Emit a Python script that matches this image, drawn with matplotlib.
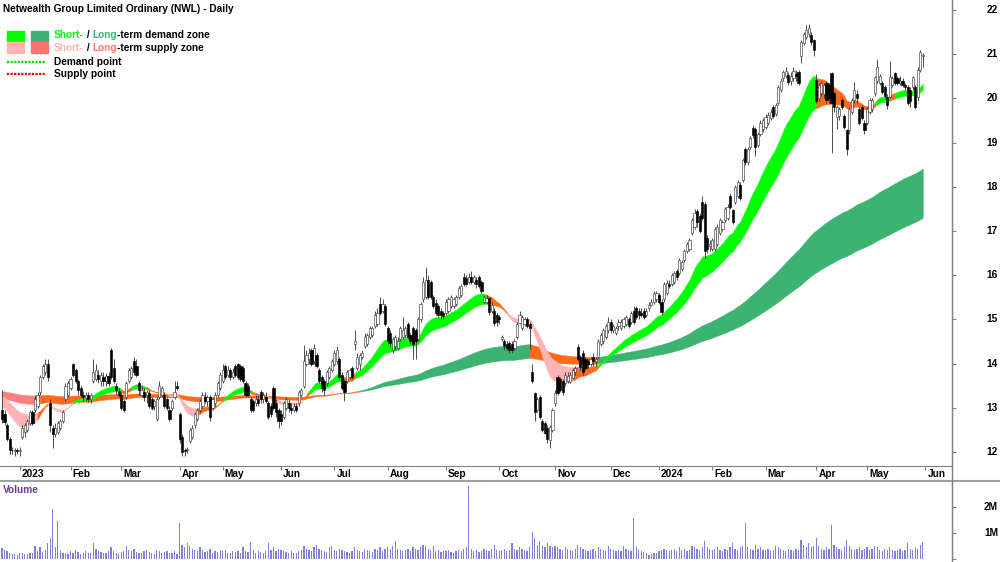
import numpy as np
import pandas as pd
import matplotlib
matplotlib.use("Agg")
import matplotlib.pyplot as plt
from matplotlib import transforms
from matplotlib.lines import Line2D
from matplotlib.patches import Rectangle

plt.rcParams['font.family'] = ['Liberation Sans', 'DejaVu Sans']

title = "Netwealth Group Limited Ordinary (NWL) - Daily"

# ASX trading days shown on the chart
asx_holidays = ["2022-12-26", "2022-12-27", "2023-01-02", "2023-01-26", "2023-04-07",
                "2023-04-10", "2023-04-25", "2023-06-12", "2023-12-25", "2023-12-26",
                "2024-01-01", "2024-01-26", "2024-03-29", "2024-04-01", "2024-04-25"]

opens = [
    12.95, 12.85, 12.60, 12.30, 12.05, 12.02, 12.05,  # Dec 22
    12.03, 12.35, 12.45, 12.50, 12.65, 12.90, 12.95, 13.05, 13.35, 13.70, 13.80, 14.00, 13.10, 12.55, 12.40, 12.45, 12.55, 12.70, 13.20, 13.30,
    13.45, 14.00, 13.85, 13.60, 13.45, 13.30, 13.22, 13.30, 13.20, 13.60, 13.65, 13.75, 13.60, 13.70, 13.60, 13.72, 14.30, 13.90, 13.50, 13.38,
    13.30, 13.15, 13.25, 13.60, 13.70, 14.05, 13.95, 13.55, 13.30, 13.35, 13.30, 13.33, 13.20, 13.05, 12.75, 13.25, 13.30, 13.30, 13.20, 12.95, 13.00, 13.25, 13.50,
    12.85, 12.35, 12.05, 12.05, 12.25, 12.35, 12.60, 12.75, 12.95, 13.05, 13.25, 13.15, 13.25, 13.00, 13.10, 13.30, 13.45,
    13.60, 13.95, 13.75, 13.85, 13.70, 13.95, 13.98, 13.95, 13.90, 13.55, 13.50, 13.20, 13.15, 13.10, 13.20, 13.35, 13.20, 13.25, 13.10, 13.05, 13.45, 13.10, 12.95,
    12.85, 12.80, 13.00, 13.10, 13.00, 12.95, 13.05, 13.10, 13.30, 13.50, 14.00, 14.10, 14.30, 14.05, 14.20, 13.85, 13.70, 13.60, 13.55, 13.70, 13.85,
    14.00, 14.05, 14.10, 13.75, 13.60, 13.60, 13.70, 13.90, 14.45, 13.90, 14.00, 14.15, 14.40, 14.45, 14.60, 14.65, 14.85, 14.90, 15.35, 15.20, 15.30,
    14.80, 14.70, 14.30, 14.40, 14.35, 14.55, 14.60, 14.65, 14.90, 14.65, 14.80, 14.75, 14.55, 15.00, 15.45, 15.50, 15.90, 15.85, 15.50, 15.37, 15.30, 15.20, 15.15,
    15.15, 15.20, 15.30, 15.30, 15.35, 15.50, 15.55, 15.95, 15.93, 15.85, 15.95, 15.85, 15.90, 15.95, 15.85, 15.40, 15.40, 15.48, 15.20, 15.20, 15.10,
    15.05, 14.55, 14.50, 14.45, 14.47, 14.45, 14.35, 14.60, 14.92, 14.80, 14.90, 15.00, 14.90, 13.80, 13.33, 12.95, 13.25, 12.70, 12.65, 12.55, 12.27, 12.50,
    13.10, 13.70, 13.65, 13.60, 13.55, 13.60, 13.58, 13.68, 13.80, 14.38, 14.15, 14.25, 14.10, 14.05, 14.00, 14.15, 14.05, 14.15, 14.45, 14.50, 14.60, 14.75,
    14.95, 14.75, 14.70, 14.85, 14.80, 14.85, 14.90, 15.00, 14.95, 15.20, 15.25, 15.20, 15.15, 15.20, 15.10, 15.25, 15.33, 15.40, 15.45,
    15.55, 15.40, 15.45, 15.60, 15.80, 15.80, 15.85, 16.10, 16.05, 16.15, 16.35, 16.55, 16.60, 16.95, 17.10, 17.45, 17.35, 17.65, 17.60, 16.85, 16.65,
    16.60, 16.60, 16.70, 16.95, 17.05, 17.25, 17.30, 17.80, 17.48, 17.65, 17.80, 18.05, 18.15, 18.85, 18.55, 18.90, 19.33, 19.30, 18.95, 19.20, 19.30,
    19.35, 19.45, 19.55, 19.80, 19.65, 19.90, 20.20, 20.45, 20.50, 20.53, 20.40, 20.45, 20.55, 20.60, 20.95, 21.25, 21.40, 21.45, 21.43, 21.32,
    20.42, 20.00, 20.12, 20.10, 20.35, 20.30, 20.57, 20.12, 19.58, 19.60, 19.96, 19.60, 19.28, 19.28, 19.70, 19.96, 20.10, 19.75, 19.80, 19.45,
    19.45, 19.70, 19.75, 20.12, 20.40, 20.35, 20.35, 20.26, 20.03, 20.03, 20.30, 20.57, 20.45, 20.35, 20.40, 20.30, 20.26, 20.20, 20.26, 20.26, 20.03, 20.64, 20.95,
]
highs = [
    13.40, 12.95, 12.65, 12.35, 12.12, 12.10, 12.10,
    12.12, 12.60, 12.65, 12.75, 12.95, 12.95, 13.30, 13.35, 13.75, 14.00, 14.10, 14.10, 13.20, 12.60, 12.65, 12.70, 12.75, 12.95, 13.55, 13.60,
    13.70, 14.02, 13.90, 13.65, 13.50, 13.38, 13.35, 13.35, 13.33, 14.10, 14.00, 13.85, 13.80, 13.80, 13.78, 13.80, 14.35, 14.10, 13.55, 13.45,
    13.35, 13.20, 13.60, 13.90, 13.95, 14.15, 14.10, 13.60, 13.50, 13.45, 13.40, 13.40, 13.25, 13.20, 13.25, 13.60, 13.50, 13.35, 13.25, 13.05, 13.20, 13.60, 13.60,
    12.90, 12.40, 12.10, 12.12, 12.55, 12.60, 12.90, 13.00, 13.20, 13.35, 13.35, 13.30, 13.30, 13.25, 13.35, 13.60, 13.80,
    13.98, 14.00, 13.95, 13.90, 13.90, 14.00, 14.02, 14.00, 13.95, 13.60, 13.55, 13.25, 13.20, 13.30, 13.30, 13.40, 13.35, 13.35, 13.15, 13.10, 13.50, 13.20, 13.00,
    12.95, 13.15, 13.25, 13.20, 13.10, 13.10, 13.10, 13.40, 13.45, 14.42, 14.30, 14.35, 14.35, 14.45, 14.25, 13.90, 13.75, 13.65, 13.85, 13.95, 14.10,
    14.30, 14.40, 14.15, 13.80, 13.65, 13.85, 13.90, 13.95, 14.75, 14.25, 14.25, 14.30, 14.70, 14.70, 14.85, 14.85, 15.20, 15.25, 15.50, 15.45, 15.35,
    14.85, 14.75, 14.60, 14.65, 14.60, 14.85, 15.05, 14.85, 14.95, 14.70, 14.85, 14.80, 15.05, 15.40, 15.95, 16.18, 16.00, 15.90, 15.55, 15.45, 15.35, 15.25, 15.20,
    15.45, 15.50, 15.55, 15.50, 15.55, 15.75, 15.80, 16.05, 16.00, 16.05, 16.10, 16.00, 15.95, 16.00, 15.90, 15.55, 15.55, 15.50, 15.40, 15.25, 15.15,
    15.10, 14.65, 14.55, 14.50, 14.50, 14.50, 14.55, 14.95, 15.20, 15.10, 15.05, 15.05, 14.95, 14.00, 13.35, 13.25, 13.30, 12.75, 12.70, 12.60, 12.60, 13.00,
    13.40, 13.75, 13.70, 13.65, 13.80, 13.80, 13.80, 13.90, 13.95, 14.45, 14.20, 14.30, 14.15, 14.10, 14.15, 14.25, 14.15, 14.55, 14.70, 14.80, 14.90, 15.05,
    15.00, 14.90, 14.85, 15.00, 15.00, 15.05, 15.10, 15.05, 15.20, 15.30, 15.30, 15.25, 15.25, 15.25, 15.25, 15.40, 15.45, 15.65, 15.65,
    15.60, 15.45, 15.85, 15.90, 15.90, 16.05, 16.10, 16.15, 16.40, 16.35, 16.60, 16.75, 16.85, 17.30, 17.50, 17.50, 17.40, 17.80, 17.65, 16.90, 16.80,
    16.85, 17.10, 17.15, 17.30, 17.25, 17.55, 17.60, 17.85, 17.50, 18.05, 18.15, 18.10, 18.65, 18.90, 18.90, 19.15, 19.40, 19.35, 19.25, 19.50, 19.55,
    19.65, 19.70, 19.75, 19.85, 19.90, 20.30, 20.45, 20.65, 20.70, 20.60, 20.60, 20.70, 20.65, 20.65, 21.32, 21.50, 21.66, 21.68, 21.50, 21.35,
    20.55, 20.35, 20.40, 20.35, 20.40, 20.35, 20.60, 20.15, 19.85, 19.80, 20.00, 19.65, 19.30, 19.80, 20.00, 20.38, 20.20, 19.80, 19.85, 19.50,
    19.80, 20.00, 20.00, 20.50, 20.90, 20.55, 20.40, 20.30, 20.10, 20.85, 20.50, 20.60, 20.50, 20.50, 20.45, 20.35, 20.30, 20.25, 20.50, 20.30, 20.70, 21.10, 21.02,
]
lows = [
    12.65, 12.60, 12.25, 11.95, 11.95, 11.92, 11.95,
    11.90, 12.30, 12.35, 12.45, 12.60, 12.60, 12.90, 13.00, 13.30, 13.65, 13.75, 13.60, 12.45, 12.10, 12.35, 12.40, 12.50, 12.65, 13.15, 13.25,
    13.40, 13.70, 13.55, 13.30, 13.25, 13.15, 13.15, 13.12, 13.10, 13.55, 13.60, 13.55, 13.50, 13.50, 13.50, 13.50, 13.65, 13.55, 13.30, 13.25,
    12.95, 12.90, 13.20, 13.55, 13.65, 13.75, 13.70, 13.30, 13.25, 13.15, 13.10, 13.00, 12.95, 12.95, 12.70, 13.20, 13.25, 13.00, 12.95, 12.70, 12.95, 13.20, 13.40,
    12.20, 11.90, 11.92, 11.98, 12.20, 12.30, 12.55, 12.70, 12.90, 13.00, 13.10, 13.05, 12.70, 12.95, 13.05, 13.25, 13.40,
    13.55, 13.65, 13.70, 13.62, 13.65, 13.70, 13.65, 13.60, 13.55, 13.25, 13.25, 12.90, 12.90, 13.05, 13.05, 13.10, 13.10, 13.10, 12.75, 12.80, 12.95, 12.80, 12.55,
    12.60, 12.75, 12.95, 12.90, 12.85, 12.90, 12.90, 13.05, 13.25, 13.45, 13.95, 14.00, 13.95, 14.00, 13.90, 13.55, 13.35, 13.30, 13.50, 13.65, 13.80,
    13.95, 14.00, 13.65, 13.40, 13.15, 13.55, 13.65, 13.65, 14.30, 13.85, 13.85, 14.10, 14.35, 14.40, 14.55, 14.60, 14.80, 14.85, 15.10, 15.15, 14.85,
    14.45, 14.40, 14.25, 14.30, 14.30, 14.50, 14.55, 14.60, 14.55, 14.45, 14.10, 14.10, 14.50, 14.95, 15.40, 15.45, 15.45, 15.45, 15.25, 15.10, 15.05, 15.00, 15.00,
    15.10, 15.15, 15.25, 15.25, 15.30, 15.45, 15.50, 15.75, 15.75, 15.80, 15.80, 15.80, 15.70, 15.70, 15.60, 15.35, 15.35, 15.10, 15.15, 14.85, 14.85,
    14.90, 14.50, 14.30, 14.30, 14.25, 14.25, 14.30, 14.55, 14.90, 14.75, 14.85, 14.80, 14.30, 13.55, 12.70, 12.90, 12.75, 12.45, 12.40, 12.20, 12.10, 12.45,
    13.05, 13.30, 13.35, 13.30, 13.50, 13.55, 13.55, 13.65, 13.75, 14.05, 13.85, 13.75, 13.85, 13.90, 13.95, 13.95, 13.95, 14.10, 14.40, 14.45, 14.55, 14.70,
    14.70, 14.70, 14.65, 14.75, 14.75, 14.80, 14.85, 14.80, 14.90, 14.90, 15.00, 15.00, 15.05, 15.00, 15.05, 15.20, 15.30, 15.35, 15.40,
    15.35, 15.10, 15.40, 15.55, 15.70, 15.75, 15.80, 15.90, 16.00, 16.10, 16.30, 16.50, 16.55, 16.90, 17.05, 17.10, 16.95, 17.25, 16.40, 16.50, 16.55,
    16.55, 16.55, 16.65, 16.90, 17.00, 17.20, 17.25, 17.50, 17.15, 17.60, 17.75, 17.70, 18.10, 18.50, 18.50, 18.85, 19.10, 18.70, 18.90, 19.15, 19.25,
    19.30, 19.40, 19.50, 19.55, 19.60, 19.85, 20.15, 20.40, 20.45, 20.30, 20.30, 20.40, 20.40, 20.30, 20.80, 21.20, 21.35, 21.40, 21.20, 20.95,
    19.90, 19.95, 20.05, 20.00, 19.90, 19.90, 18.76, 19.70, 19.30, 19.50, 19.75, 19.30, 18.72, 19.20, 19.65, 19.90, 19.90, 19.40, 19.50, 19.20,
    19.40, 19.65, 19.70, 20.05, 20.35, 20.30, 20.10, 20.00, 19.75, 20.00, 20.25, 20.30, 20.30, 20.30, 20.25, 20.20, 19.85, 19.80, 20.20, 19.75, 19.95, 20.60, 20.70,
]
closes = [
    12.75, 12.68, 12.30, 12.05, 12.04, 12.05, 12.03,
    12.05, 12.55, 12.60, 12.70, 12.90, 12.65, 13.20, 13.30, 13.70, 13.95, 14.00, 13.70, 12.60, 12.40, 12.55, 12.65, 12.70, 12.90, 13.50, 13.55,
    13.65, 13.75, 13.60, 13.40, 13.30, 13.25, 13.30, 13.20, 13.28, 13.80, 13.85, 13.65, 13.75, 13.60, 13.72, 13.55, 13.70, 13.60, 13.40, 13.30,
    13.00, 12.95, 13.55, 13.85, 13.90, 13.80, 13.75, 13.40, 13.40, 13.25, 13.35, 13.05, 13.00, 13.15, 13.20, 13.50, 13.45, 13.05, 13.00, 12.75, 13.15, 13.35, 13.45,
    12.30, 12.00, 12.02, 12.07, 12.50, 12.55, 12.85, 12.95, 13.15, 13.30, 13.15, 13.25, 12.80, 13.20, 13.30, 13.55, 13.75,
    13.85, 13.70, 13.85, 13.70, 13.80, 13.75, 13.70, 13.65, 13.60, 13.30, 13.30, 12.95, 12.95, 13.20, 13.10, 13.20, 13.30, 13.15, 12.80, 12.85, 13.00, 12.90, 12.70,
    12.70, 13.10, 13.20, 13.00, 12.95, 13.05, 12.95, 13.35, 13.40, 14.05, 14.20, 14.25, 14.00, 14.35, 13.95, 13.60, 13.45, 13.40, 13.80, 13.90, 14.05,
    14.25, 14.30, 13.70, 13.45, 13.35, 13.80, 13.85, 13.70, 14.50, 14.15, 14.20, 14.25, 14.60, 14.65, 14.80, 14.80, 15.10, 15.15, 15.15, 15.35, 14.90,
    14.50, 14.47, 14.55, 14.60, 14.50, 14.80, 14.75, 14.80, 14.60, 14.50, 14.45, 14.50, 15.00, 15.35, 15.85, 15.90, 15.50, 15.50, 15.30, 15.15, 15.10, 15.10, 15.08,
    15.40, 15.45, 15.50, 15.45, 15.50, 15.70, 15.75, 15.80, 15.80, 15.95, 15.85, 15.95, 15.80, 15.75, 15.65, 15.50, 15.48, 15.17, 15.33, 14.92, 14.95,
    15.00, 14.60, 14.40, 14.35, 14.30, 14.30, 14.50, 14.90, 15.10, 15.05, 15.00, 14.85, 14.80, 13.60, 12.90, 13.20, 12.80, 12.50, 12.43, 12.30, 12.57, 12.95,
    13.33, 13.33, 13.40, 13.35, 13.75, 13.72, 13.75, 13.85, 13.90, 14.10, 13.92, 13.80, 13.90, 14.00, 14.10, 14.05, 14.10, 14.50, 14.65, 14.75, 14.85, 14.95,
    14.75, 14.85, 14.80, 14.95, 14.95, 15.00, 15.05, 14.85, 15.15, 14.95, 15.05, 15.10, 15.10, 15.05, 15.20, 15.33, 15.40, 15.60, 15.60,
    15.40, 15.17, 15.80, 15.83, 15.75, 16.00, 16.05, 15.95, 16.35, 16.30, 16.55, 16.70, 16.80, 17.25, 17.40, 17.20, 17.00, 17.30, 16.55, 16.60, 16.70,
    16.80, 17.05, 17.10, 17.25, 17.20, 17.50, 17.55, 17.55, 17.20, 18.00, 18.10, 17.75, 18.60, 18.55, 18.85, 19.10, 19.17, 18.90, 19.20, 19.45, 19.50,
    19.58, 19.62, 19.70, 19.60, 19.85, 20.25, 20.40, 20.60, 20.62, 20.37, 20.50, 20.62, 20.50, 20.35, 21.28, 21.45, 21.55, 21.60, 21.28, 21.10,
    19.95, 20.30, 20.35, 20.30, 19.96, 20.00, 19.90, 19.80, 19.80, 19.75, 19.80, 19.35, 18.85, 19.75, 19.96, 20.20, 20.00, 19.45, 19.55, 19.28,
    19.75, 19.96, 19.96, 20.48, 20.70, 20.50, 20.15, 20.05, 19.85, 20.48, 20.45, 20.35, 20.35, 20.40, 20.30, 20.25, 19.90, 19.95, 20.48, 19.80, 20.64, 21.05, 20.98,
]
# volume, millions of shares
volumes = [
    0.42, 0.35, 0.30, 0.22, 0.18, 0.20, 0.15,
    0.25, 0.22, 0.20, 0.18, 0.25, 0.22, 0.50, 0.30, 0.46, 0.28, 0.35, 0.60, 0.80, 1.92, 0.45, 1.46, 0.30, 0.25, 0.22, 0.20,
    0.30, 0.25, 0.35, 0.28, 0.20, 0.22, 0.30, 0.25, 0.25, 0.60, 0.40, 0.30, 0.28, 0.25, 0.22, 0.30, 0.45, 0.30, 0.25, 0.20,
    0.28, 0.30, 0.50, 0.35, 0.30, 0.40, 0.28, 0.25, 0.22, 0.30, 0.35, 0.28, 0.25, 0.20, 0.35, 0.30, 0.25, 0.28, 0.32, 0.22, 0.25, 0.30, 0.20,
    1.38, 0.55, 0.45, 0.60, 0.50, 0.40, 0.35, 0.30, 0.45, 0.35, 0.28, 0.30, 0.40, 0.25, 0.30, 0.28, 0.35,
    0.30, 0.35, 0.25, 0.22, 0.30, 0.28, 0.32, 0.25, 0.45, 0.30, 0.28, 0.65, 0.35, 0.25, 0.30, 0.28, 0.22, 0.30, 0.60, 0.35, 0.45, 0.30, 0.40,
    0.35, 0.30, 0.28, 0.25, 0.30, 0.22, 0.25, 0.30, 0.35, 0.50, 0.40, 0.35, 0.30, 0.45, 0.55, 0.40, 0.35, 0.30, 0.28, 0.45, 0.50,
    0.35, 0.30, 0.40, 0.35, 0.30, 0.28, 0.25, 0.30, 0.45, 0.35, 0.30, 0.28, 0.40, 0.35, 0.30, 0.28, 0.40, 0.35, 0.45, 0.30, 0.40,
    0.45, 0.40, 0.50, 0.70, 0.40, 0.35, 0.30, 0.35, 0.40, 0.30, 0.45, 0.40, 0.35, 0.45, 0.55, 0.50, 0.40, 0.35, 0.50, 0.30, 0.35, 0.28, 0.30,
    0.30, 0.35, 0.28, 0.25, 0.30, 0.35, 0.30, 0.40, 0.45, 2.80, 0.40, 0.30, 0.35, 0.28, 0.30, 0.40, 0.35, 0.30, 0.40, 0.55, 0.35,
    0.30, 0.35, 0.40, 0.30, 0.35, 0.60, 0.40, 0.35, 0.45, 0.40, 0.35, 0.30, 0.45, 1.05, 0.80, 0.55, 0.70, 0.50, 0.45, 0.60, 0.50, 0.45,
    0.50, 0.45, 0.40, 0.35, 0.45, 0.40, 0.35, 0.30, 0.40, 0.55, 0.45, 0.40, 0.35, 0.30, 0.35, 0.40, 0.30, 0.45, 0.40, 0.35, 0.30, 0.50,
    0.40, 0.35, 0.30, 0.35, 0.30, 0.50, 0.40, 0.35, 0.30, 1.58, 0.45, 0.35, 0.30, 0.28, 0.25, 0.15, 0.20, 0.25, 0.22,
    0.30, 0.35, 0.40, 0.35, 0.30, 0.35, 0.40, 0.30, 0.45, 0.35, 0.40, 0.30, 0.35, 0.50, 0.45, 0.40, 0.35, 0.45, 0.70, 0.45, 0.40,
    0.35, 0.40, 0.45, 0.35, 0.30, 0.40, 0.35, 0.45, 0.60, 0.40, 0.35, 0.45, 0.50, 1.38, 0.45, 0.40, 0.35, 0.55, 0.40, 0.45, 0.35,
    0.35, 0.40, 0.30, 0.35, 0.50, 0.45, 0.40, 0.35, 0.30, 0.40, 0.35, 0.30, 0.40, 0.35, 0.75, 0.55, 0.45, 0.60, 0.45, 0.50,
    0.80, 0.50, 0.40, 0.35, 0.45, 0.40, 1.30, 0.55, 0.45, 0.40, 0.35, 0.45, 0.75, 0.50, 0.40, 0.35, 0.40, 0.45, 0.35, 0.40,
    0.45, 0.35, 0.40, 0.50, 0.45, 0.35, 0.30, 0.40, 0.35, 0.45, 0.35, 0.30, 0.35, 0.40, 0.30, 0.35, 0.60, 0.40, 0.35, 0.45, 0.40, 0.55, 0.65,
]

# moving-average ribbons (periods and starting levels at the left edge)
short_spans = [20, 22, 25, 28, 31, 35]
short_seeds = [13.05, 13.10, 13.15, 13.20, 13.25, 13.30]
long_spans = [140, 150, 165, 180, 200, 230]
long_seeds = [13.22, 13.25, 13.28, 13.31, 13.34, 13.38]

# zone colouring: (first bar, state)
short_zones = [(0, "down"), (14, "mix"), (18, "down"), (28, "up"), (47, "mix"), (51, "up"),
               (57, "mix"), (62, "down"), (77, "mix"), (87, "up"), (98, "mix"), (104, "down"),
               (119, "mix"), (121, "up"), (134, "mix"), (139, "up"), (191, "mix"), (199, "down"),
               (225, "mix"), (235, "up"), (321, "mix"), (344, "up"), (350, "mix"), (352, "up")]
long_zones = [(0, "down"), (15, "mix"), (141, "up"), (208, "mix"), (235, "up")]

short_colors = {"up": "#00ff00", "down": "#ffb3b3", "mix": "#ff6a1a"}
long_colors = {"up": "#3cb371", "down": "#ff8080", "mix": "#ff6a1a"}

W, H = 1000, 562
FS = 7.3

n = len(closes)
o = np.array(opens[:n]); h = np.array(highs[:n]); l = np.array(lows[:n]); c = np.array(closes)
vol = np.array(volumes[:n])
x = np.arange(n)

dates = pd.bdate_range("2022-12-20", "2024-05-31", freq="C", holidays=asx_holidays)[:n]
month_pos, month_lab = [], []
for i in range(1, n):
    if dates[i].month != dates[i - 1].month:
        month_pos.append(i)
        month_lab.append(str(dates[i].year) if dates[i].month == 1 else dates[i].strftime("%b"))
month_pos.append(n)
month_lab.append("Jun")


def ema(vals, span, seed):
    a = 2.0 / (span + 1)
    out = []
    e = seed
    for v in vals:
        e = e + a * (v - e)
        out.append(e)
    return np.array(out)


def draw_ribbon(ax, spans, seeds, zones, colors, z):
    lines = np.array([ema(c, s, sd) for s, sd in zip(spans, seeds)])
    lo, hi = lines.min(axis=0), lines.max(axis=0)
    bounds = [z0 for z0, _ in zones] + [n - 1]
    for k, (start, state) in enumerate(zones):
        end = bounds[k + 1]
        sl = slice(start, end + 1)
        ax.fill_between(x[sl], lo[sl], hi[sl], color=colors[state], lw=0.3,
                        edgecolor=colors[state], zorder=z)


fig = plt.figure(figsize=(W / 100, H / 100), dpi=100)
ax = fig.add_axes([0, 1 - 466 / H, 952 / W, 466 / H])
axv = fig.add_axes([0, 0, 952 / W, 81 / H])

draw_ribbon(ax, long_spans, long_seeds, long_zones, long_colors, 1)
draw_ribbon(ax, short_spans, short_seeds, short_zones, short_colors, 2)

# candles
up = c >= o
bot = np.minimum(o, c)
hgt = np.maximum(np.abs(c - o), 0.015)
ax.vlines(x, l, h, colors="#303030", lw=0.6, zorder=4)
ax.bar(x[up], hgt[up], bottom=bot[up], width=0.85, color="white",
       edgecolor="#404040", lw=0.45, zorder=5)
ax.bar(x[~up], hgt[~up], bottom=bot[~up], width=0.85, color="black",
       edgecolor="black", lw=0.45, zorder=5)

ax.set_xlim(-0.8, 374.5)
ax.set_ylim(11.683, 22.226)
for s in ["top", "left"]:
    ax.spines[s].set_visible(False)
ax.spines["right"].set_color("#808080")
ax.spines["bottom"].set_color("#808080")
ax.yaxis.tick_right()
ax.set_yticks(range(12, 23))
ax.tick_params(axis="y", length=3, color="#808080", labelright=False)
ax.set_xticks(month_pos)
ax.tick_params(axis="x", length=3, color="#808080", labelbottom=False)

ytrans = transforms.blended_transform_factory(fig.transFigure, ax.transData)
for v in range(12, 23):
    ax.text(998 / W, v, str(v), transform=ytrans, ha="right", va="center",
            fontsize=FS, fontweight="bold")
xtrans = transforms.blended_transform_factory(ax.transData, fig.transFigure)
for p, lab in zip(month_pos, month_lab):
    ax.text(p + 0.8, 1 - 474 / H, lab, transform=xtrans, ha="left", va="center",
            fontsize=FS, fontweight="bold", clip_on=False)

# volume panel
axv.bar(x, vol, width=0.5, color="#8080d4", lw=0)
axv.set_xlim(-0.8, 374.5)
axv.set_ylim(-0.115, 3.0)
for s in ["top", "left", "bottom"]:
    axv.spines[s].set_visible(False)
axv.spines["right"].set_color("#808080")
axv.yaxis.tick_right()
axv.set_yticks([0, 1, 2])
axv.set_xticks([])
axv.tick_params(axis="y", length=3, color="#808080", labelright=False)
vtrans = transforms.blended_transform_factory(fig.transFigure, axv.transData)
for v, lab in [(1, "1M"), (2, "2M")]:
    axv.text(998 / W, v, lab, transform=vtrans, ha="right", va="center",
             fontsize=FS, fontweight="bold")

fig.add_artist(Line2D([0, 1], [1 - 481 / H] * 2, color="#a0a0a0", lw=1.5))
fig.add_artist(Line2D([952 / W] * 2, [0, 1], color="#808080", lw=1))

fig.text(3 / W, 1 - 490 / H, "Volume", color="#6a3d9a", fontsize=FS,
         fontweight="bold", va="center")
fig.text(3 / W, 1 - 9 / H, title, fontsize=FS, fontweight="bold", va="center")

# legend
fig.add_artist(Rectangle((7 / W, 1 - 41 / H), 17 / W, 10 / H, color="#00ff00"))
fig.add_artist(Rectangle((31 / W, 1 - 41 / H), 17 / W, 10 / H, color="#3cb371"))
fig.add_artist(Rectangle((7 / W, 1 - 53 / H), 17 / W, 11 / H, color="#ffb3b3"))
fig.add_artist(Rectangle((31 / W, 1 - 53 / H), 17 / W, 11 / H, color="#ff7373"))
fig.add_artist(Line2D([7 / W, 45 / W], [1 - 62 / H] * 2, color="#00dd00", lw=1.6,
                      linestyle=(0, (1, 0.6))))
fig.add_artist(Line2D([7 / W, 45 / W], [1 - 74 / H] * 2, color="#ee0000", lw=1.6,
                      linestyle=(0, (1, 0.6))))


def rich(x_px, y_px, parts):
    t = fig.text(x_px / W, 1 - y_px / H, parts[0][0], color=parts[0][1],
                 fontsize=FS, fontweight="bold", va="center")
    for s, col in parts[1:]:
        t = ax.annotate(s, xy=(1, 0.5), xycoords=t, va="center", ha="left",
                        color=col, fontsize=FS, fontweight="bold")


rich(54, 35, [("Short-", "#00ff00"), (" / ", "black"), ("Long", "#3cb371"),
              ("-term demand zone", "black")])
rich(54, 48, [("Short-", "#ffb3b3"), (" / ", "black"), ("Long", "#ff7373"),
              ("-term supply zone", "black")])
fig.text(54 / W, 1 - 62 / H, "Demand point", fontsize=FS, fontweight="bold", va="center")
fig.text(54 / W, 1 - 74 / H, "Supply point", fontsize=FS, fontweight="bold", va="center")

fig.savefig("out.png", dpi=100)
